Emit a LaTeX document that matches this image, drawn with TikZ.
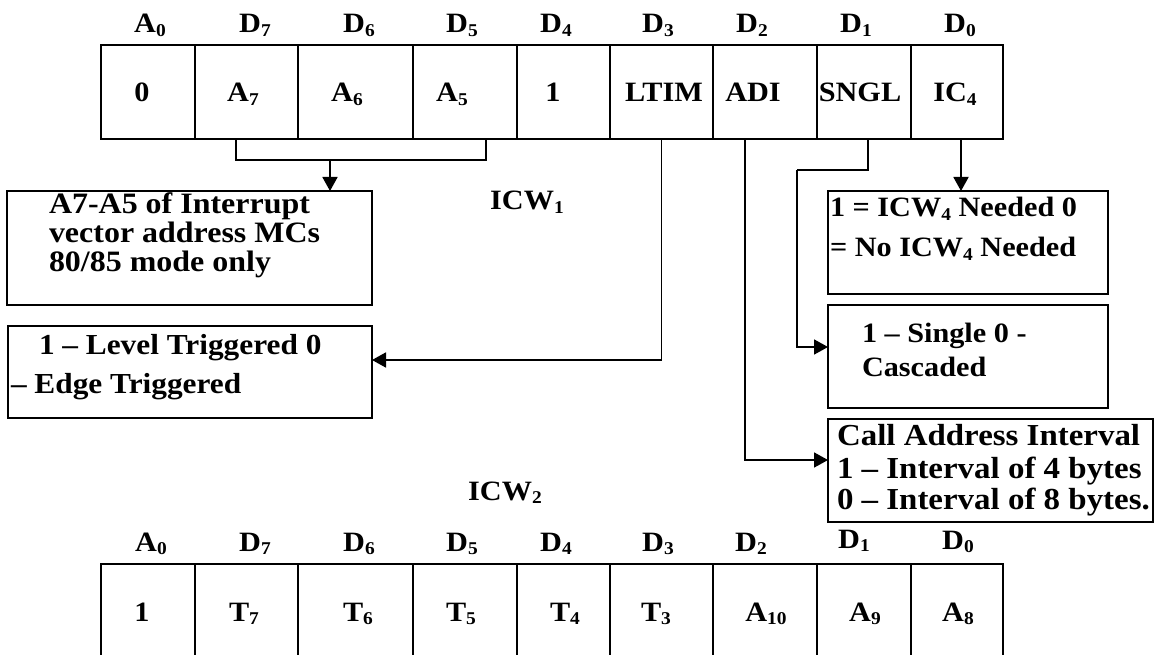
\documentclass[tikz,border=0pt]{standalone}
\usepackage{fontspec}
\setmainfont{Liberation Serif}[FakeStretch=1.08]
\usetikzlibrary{arrows.meta}
\newcommand\sbs[1]{\raisebox{-3.5pt}{\fontsize{18}{18}\selectfont #1}}
\begin{document}
\begin{tikzpicture}[x=1pt,y=-1pt,
  font=\fontsize{28}{33}\selectfont\bfseries,
  cellbox/.style={draw, line width=1.8pt, inner sep=0pt, outer sep=0pt, anchor=north west, minimum height=94pt},
  lowcell/.style={cellbox, minimum height=110pt},
  txt/.style={inner sep=0pt, outer sep=0pt, anchor=base},
  ltxt/.style={inner sep=0pt, outer sep=0pt, anchor=base west},
  bigtxt/.style={ltxt, font=\fontsize{29.6}{34}\selectfont\bfseries},
  leveltxt/.style={ltxt, font=\fontsize{29}{34}\selectfont\bfseries},
  calltxt/.style={ltxt, font=\fontsize{30.5}{35}\selectfont\bfseries},
  infobox/.style={draw, line width=2.2pt, inner sep=0pt, outer sep=0pt, anchor=north west},
  conn/.style={line width=1.8pt},
  arr/.style={conn, -{Triangle[length=14pt,width=15pt]}}]
\clip (0,0) rectangle (1154,655);
\fill[white] (0,0) rectangle (1154,655);
% ---------- top row (ICW1)
\node[cellbox, minimum width=94pt]  (c0) at (101,45) {};
\node[cellbox, minimum width=103pt] (c1) at (195,45) {};
\node[cellbox, minimum width=115pt] (c2) at (298,45) {};
\node[cellbox, minimum width=104pt] (c3) at (413,45) {};
\node[cellbox, minimum width=93pt]  (c4) at (517,45) {};
\node[cellbox, minimum width=103pt] (c5) at (610,45) {};
\node[cellbox, minimum width=104pt] (c6) at (713,45) {};
\node[cellbox, minimum width=94pt]  (c7) at (817,45) {};
\node[cellbox, minimum width=92pt]  (c8) at (911,45) {};
\node[txt] (t0) at (142,102) {0};
\node[txt] (t1) at (243,102) {A\sbs{7}};
\node[txt] (t2) at (347,102) {A\sbs{6}};
\node[txt] (t3) at (452,102) {A\sbs{5}};
\node[txt] (t4) at (553,102) {1};
\node[txt] (t5) at (664,102) {LTIM};
\node[txt] (t6) at (753,102) {ADI};
\node[txt] (t7) at (860,102) {SNGL};
\node[txt] (t8) at (955,102) {IC\sbs{4}};
\node[txt] (h0) at (150,33) {A\sbs{0}};
\node[txt] (h1) at (255,33) {D\sbs{7}};
\node[txt] (h2) at (359,33) {D\sbs{6}};
\node[txt] (h3) at (462,33) {D\sbs{5}};
\node[txt] (h4) at (556,33) {D\sbs{4}};
\node[txt] (h5) at (658,33) {D\sbs{3}};
\node[txt] (h6) at (752,33) {D\sbs{2}};
\node[txt] (h7) at (856,33) {D\sbs{1}};
\node[txt] (h8) at (960,33) {D\sbs{0}};
% ---------- description boxes
\node[infobox, minimum width=365pt, minimum height=114pt] (a7box) at (7,191) {};
\node[infobox, minimum width=364pt, minimum height=92pt] (levelbox) at (8,326) {};
\node[infobox, minimum width=280pt, minimum height=103pt] (icwbox) at (828,191) {};
\node[infobox, minimum width=280pt, minimum height=103pt] (singlebox) at (828,305) {};
\node[infobox, minimum width=325pt, minimum height=103pt] (callbox) at (828,419) {};
\node[bigtxt] (a7a) at (49,214) {A7-A5 of Interrupt};
\node[bigtxt] (a7b) at (49,243) {vector address MCs};
\node[bigtxt] (a7c) at (49,272) {80/85 mode only};
\node[leveltxt] (lva) at (39,354) {1 -- Level Triggered 0};
\node[leveltxt] (lvb) at (11,393) {-- Edge Triggered};
\node[ltxt] (ica) at (830,217) {1 = ICW\sbs{4} Needed 0};
\node[ltxt] (icb) at (830,257) {= No ICW\sbs{4} Needed};
\node[ltxt] (sga) at (862,342) {1 -- Single 0 -};
\node[ltxt] (sgb) at (862,376) {Cascaded};
\node[calltxt] (caa) at (837,445) {Call Address Interval};
\node[calltxt] (cab) at (837,478) {1 -- Interval of 4 bytes};
\node[calltxt] (cac) at (837,509) {0 -- Interval of 8 bytes.};
\node[txt] (icw1) at (527,210) {ICW\sbs{1}};
\node[txt] (icw2) at (505,500) {ICW\sbs{2}};
% ---------- connectors
\coordinate (bl) at (236,160);
\coordinate (br) at (486,160);
\coordinate (bm) at (330,160);
\draw[conn] (bl |- c1.south) -- (bl) -- (br) -- (br |- c3.south);
\draw[arr] (bm) -- (bm |- a7box.north);
\draw[arr] (c5.south) |- ([yshift=12pt]levelbox.east);
\draw[arr] ([xshift=-20pt]c6.south) |- ([yshift=10.5pt]callbox.west);
\coordinate (sj) at (797,170);
\draw[conn] ([xshift=4pt]c7.south) |- (sj);
\draw[arr] (sj) |- ([yshift=9.5pt]singlebox.west);
\draw[arr] ([xshift=4pt]c8.south) -- ([xshift=4pt]c8.south |- icwbox.north);
% ---------- bottom row (ICW2)
\node[lowcell, minimum width=94pt]  (d0) at (101,564) {};
\node[lowcell, minimum width=103pt] (d1) at (195,564) {};
\node[lowcell, minimum width=115pt] (d2) at (298,564) {};
\node[lowcell, minimum width=104pt] (d3) at (413,564) {};
\node[lowcell, minimum width=93pt]  (d4) at (517,564) {};
\node[lowcell, minimum width=103pt] (d5) at (610,564) {};
\node[lowcell, minimum width=104pt] (d6) at (713,564) {};
\node[lowcell, minimum width=94pt]  (d7) at (817,564) {};
\node[lowcell, minimum width=92pt]  (d8) at (911,564) {};
\node[txt] (u0) at (142,621) {1};
\node[txt] (u1) at (244,621) {T\sbs{7}};
\node[txt] (u2) at (358,621) {T\sbs{6}};
\node[txt] (u3) at (461,621) {T\sbs{5}};
\node[txt] (u4) at (565,621) {T\sbs{4}};
\node[txt] (u5) at (656,621) {T\sbs{3}};
\node[txt] (u6) at (766,621) {A\sbs{10}};
\node[txt] (u7) at (865,621) {A\sbs{9}};
\node[txt] (u8) at (958,621) {A\sbs{8}};
\node[txt] (g0) at (151,551) {A\sbs{0}};
\node[txt] (g1) at (255,551) {D\sbs{7}};
\node[txt] (g2) at (359,551) {D\sbs{6}};
\node[txt] (g3) at (462,551) {D\sbs{5}};
\node[txt] (g4) at (556,551) {D\sbs{4}};
\node[txt] (g5) at (658,551) {D\sbs{3}};
\node[txt] (g6) at (751,551) {D\sbs{2}};
\node[txt] (g7) at (854,548) {D\sbs{1}};
\node[txt] (g8) at (958,549) {D\sbs{0}};
\end{tikzpicture}
\end{document}
